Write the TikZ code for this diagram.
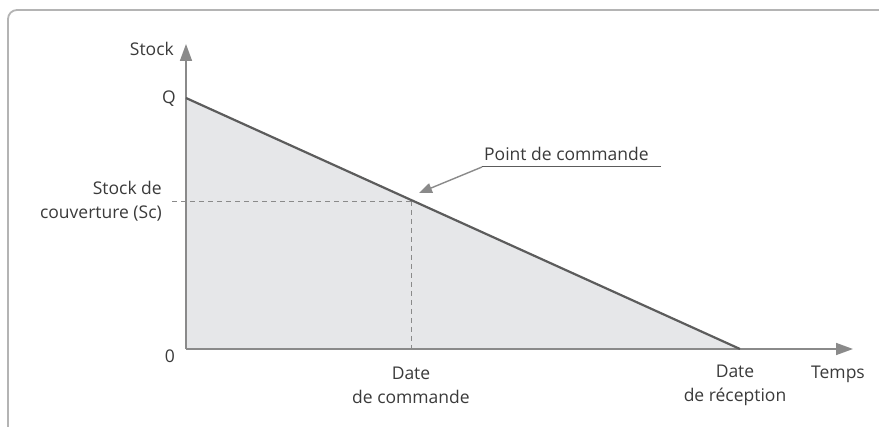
\documentclass[tikz,border=0pt]{standalone}
\usepackage{fontspec}
\setmainfont{Open Sans}
\usetikzlibrary{arrows.meta}
\definecolor{framegray}{HTML}{B4B4B4}
\definecolor{axisgray}{HTML}{8A8A8A}
\definecolor{linegray}{HTML}{5C5C5C}
\definecolor{areagray}{HTML}{E6E7E9}
\definecolor{textgray}{HTML}{3A3A3A}
\begin{document}
\begin{tikzpicture}[x=1pt,y=-1pt,
  lbl/.style={text=textgray,font=\fontsize{17.5}{24}\selectfont,inner sep=0pt},
  axis/.style={axisgray,line width=1.6pt,-{Triangle[length=17pt,width=12pt]}},
  guide/.style={axisgray,line width=0.9pt,dash pattern=on 5pt off 4pt}]
\useasboundingbox (0,0) rectangle (879,427);
% outer frame (runs off the right and bottom edges)
\draw[framegray,line width=1.8pt,rounded corners=9pt] (8,440) -- (8,10) -- (895,10);
% key points
\coordinate (O) at (186,349);
\coordinate (Q) at (186,98);
\coordinate (R) at (740,349);
\coordinate (P) at (411,201);
\coordinate (Yend) at (186,44);
\coordinate (Xend) at (853,349);
% stock area
\fill[areagray] (Q) -- (R) -- (O) -- cycle;
% guides to the order point
\draw[guide] (172,201) -- (P);
\draw[guide] (P) -- (O -| P);
% axes
\draw[axis] (O) -- (Yend);
\draw[axis] (O) -- (Xend);
% stock level
\draw[linegray,line width=2.2pt] (Q) -- (R);
% labels
\node[lbl,anchor=east] (lstock) at (174,49) {Stock};
\node[lbl,anchor=east] (lq) at (176,99) {Q};
\node[lbl,anchor=east,align=right] (lsc) at (162,201) {Stock de\\couverture (Sc)};
\node[lbl,anchor=east] (lzero) at (175,356) {0};
\node[lbl,align=center] (ldc) at (411,385) {Date\\de commande};
\node[lbl,align=center] (ldr) at (735,385) {Date\\de réception};
\node[lbl] (ltemps) at (838,374) {Temps};
\node[lbl,anchor=base west] (lpc) at (484,161) {Point de commande};
% callout
\coordinate (u1) at (482,167);
\coordinate (u2) at (661,167);
\draw[linegray,line width=1pt] (u2) -- (u1);
\draw[axisgray,line width=1.4pt,-{Triangle[length=13pt,width=10pt]}] (u1) -- (419,193);
\end{tikzpicture}
\end{document}
